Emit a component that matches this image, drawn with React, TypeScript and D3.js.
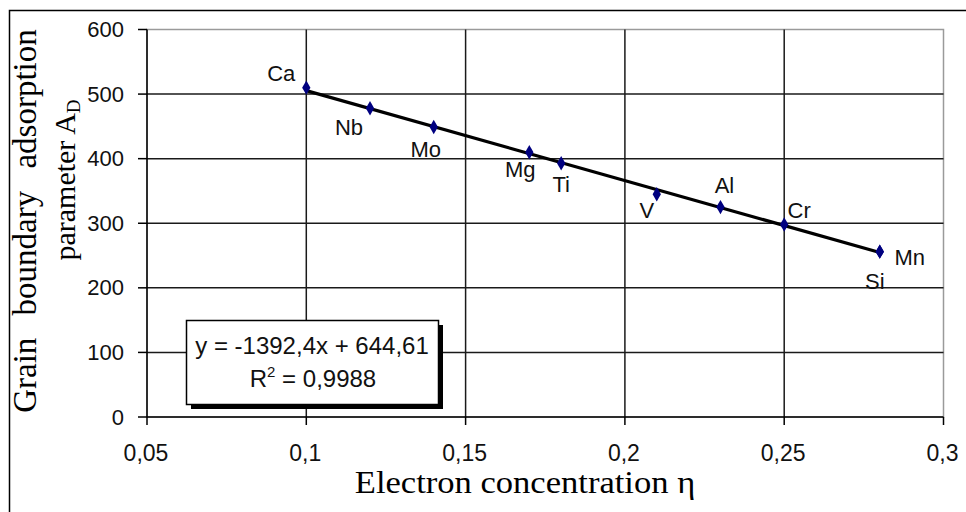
import React, { useEffect, useRef } from "react";
import * as d3 from "d3";

// element labels and measured values
const ELEMENTS = ["Ca", "Nb", "Mo", "Mg", "Ti", "V", "Al", "Cr", "Mn", "Si"];
const ETA = [0.1, 0.12, 0.14, 0.17, 0.18, 0.21, 0.23, 0.25, 0.28, 0.28];
const AD = [510, 478, 449, 410, 393, 345, 325, 298, 256, 256];

// label placement relative to point (px)
const LABEL_OFFSETS: [number, number][] = [
  [-25, -7], [-21, 27], [-8, 30], [-9, 25], [0, 29],
  [-10, 24], [4, -14], [15, -7], [30, 13], [-5, 37],
];

const X_TICKS = [0.05, 0.1, 0.15, 0.2, 0.25, 0.3];
const Y_TICKS = [0, 100, 200, 300, 400, 500, 600];

// linear trend line (Excel)
const SLOPE = -1392.4;
const INTERCEPT = 644.61;
const EQ_TEXT = "y = -1392,4x + 644,61";
const R2_TEXT = "0,9988";

const W = 966;
const H = 512;
const PL = 147, PR = 943.5, PT = 29.5, PB = 417;
const SANS = "'Liberation Sans', Arial, sans-serif";
const SERIF = "'Liberation Serif', 'Times New Roman', serif";

const fmt = (v: number) => String(v).replace(".", ",");

export default function App() {
  const svgRef = useRef<SVGSVGElement | null>(null);

  useEffect(() => {
    if (!svgRef.current) return;
    const svg = d3.select(svgRef.current);
    svg.selectAll("*").remove();

    const x = d3.scaleLinear().domain([0.05, 0.3]).range([PL, PR]);
    const y = d3.scaleLinear().domain([0, 600]).range([PB, PT]);

    svg.append("rect").attr("width", W).attr("height", H).attr("fill", "#fff");

    // outer chart border (only top/left visible)
    svg.append("path")
      .attr("d", `M9.5,${H + 2} V10.5 H${W + 2}`)
      .attr("fill", "none").attr("stroke", "#000").attr("stroke-width", 1.5);

    // plot area border (grey)
    svg.append("rect")
      .attr("x", PL).attr("y", PT).attr("width", PR - PL).attr("height", PB - PT)
      .attr("fill", "none").attr("stroke", "#9a9a9a").attr("stroke-width", 1.5);

    // gridlines
    const grid = svg.append("g").attr("stroke", "#1a1a1a").attr("stroke-width", 1.5);
    Y_TICKS.filter(t => t > 0 && t < 600).forEach(t => {
      grid.append("line").attr("x1", PL).attr("x2", PR).attr("y1", y(t)).attr("y2", y(t));
    });
    X_TICKS.filter(t => t > 0.05 && t < 0.3).forEach(t => {
      grid.append("line").attr("x1", x(t)).attr("x2", x(t)).attr("y1", PT).attr("y2", PB);
    });

    // axes lines + tick marks
    const ax = svg.append("g").attr("stroke", "#000").attr("stroke-width", 1.5);
    ax.append("line").attr("x1", PL).attr("x2", PL).attr("y1", PT).attr("y2", PB);
    ax.append("line").attr("x1", PL).attr("x2", PR).attr("y1", PB).attr("y2", PB);
    Y_TICKS.forEach(t => {
      ax.append("line").attr("x1", PL - 9).attr("x2", PL).attr("y1", y(t)).attr("y2", y(t));
    });
    X_TICKS.forEach(t => {
      ax.append("line").attr("x1", x(t)).attr("x2", x(t)).attr("y1", PB).attr("y2", PB + 8);
    });

    // tick labels
    Y_TICKS.forEach(t => {
      svg.append("text")
        .attr("x", 124).attr("y", y(t) + 7.5)
        .attr("text-anchor", "end")
        .attr("font-family", SANS).attr("font-size", "22px").attr("fill", "#111")
        .text(t);
    });
    X_TICKS.forEach(t => {
      svg.append("text")
        .attr("x", x(t) - 1).attr("y", 461)
        .attr("text-anchor", "middle")
        .attr("font-family", SANS).attr("font-size", "23px").attr("fill", "#111")
        .text(fmt(t));
    });

    // trend line
    const x0 = d3.min(ETA) as number;
    const x1 = d3.max(ETA) as number;
    svg.append("line")
      .attr("x1", x(x0)).attr("y1", y(SLOPE * x0 + INTERCEPT))
      .attr("x2", x(x1)).attr("y2", y(SLOPE * x1 + INTERCEPT))
      .attr("stroke", "#000").attr("stroke-width", 3.2);

    // markers
    const diamond = d3.symbol().type(d3.symbolDiamond).size(60);
    ETA.forEach((e, i) => {
      svg.append("path")
        .attr("d", diamond()!)
        .attr("transform", `translate(${x(e)},${y(AD[i])})`)
        .attr("fill", "#000080");
    });

    // element labels
    ELEMENTS.forEach((el, i) => {
      const [dx, dy] = LABEL_OFFSETS[i];
      svg.append("text")
        .attr("x", x(ETA[i]) + dx).attr("y", y(AD[i]) + dy)
        .attr("text-anchor", "middle")
        .attr("font-family", SANS).attr("font-size", "22px").attr("fill", "#111")
        .text(el);
    });

    // equation box with shadow
    svg.append("rect").attr("x", 191).attr("y", 325).attr("width", 252).attr("height", 84).attr("fill", "#000");
    svg.append("rect").attr("x", 186.5).attr("y", 320.5).attr("width", 252).attr("height", 84)
      .attr("fill", "#fff").attr("stroke", "#000").attr("stroke-width", 1.5);
    svg.append("text")
      .attr("x", 312).attr("y", 354).attr("text-anchor", "middle")
      .attr("font-family", SANS).attr("font-size", "24px").attr("fill", "#111")
      .text(EQ_TEXT);
    const r2 = svg.append("text")
      .attr("x", 313).attr("y", 387).attr("text-anchor", "middle")
      .attr("font-family", SANS).attr("font-size", "24px").attr("fill", "#111");
    r2.append("tspan").text("R");
    r2.append("tspan").attr("dy", -10).attr("font-size", "15px").text("2");
    r2.append("tspan").attr("dy", 10).text(` = ${R2_TEXT}`);

    // axis titles
    svg.append("text")
      .attr("transform", "translate(525,493) scale(1.08,1)")
      .attr("text-anchor", "middle")
      .attr("font-family", SERIF).attr("font-size", "32px").attr("fill", "#000")
      .text("Electron concentration η");

    svg.append("text")
      .attr("transform", "translate(36,221) rotate(-90)")
      .attr("text-anchor", "middle")
      .attr("font-family", SERIF).attr("font-size", "33px").attr("fill", "#000")
      .attr("word-spacing", "14px")
      .text("Grain boundary adsorption");
    const t2 = svg.append("text")
      .attr("transform", "translate(75,180) rotate(-90)")
      .attr("text-anchor", "middle")
      .attr("font-family", SERIF).attr("font-size", "30px").attr("fill", "#000");
    t2.append("tspan").text("parameter  A");
    t2.append("tspan").attr("dy", 5).attr("font-size", "19px").text("D");
  }, []);

  return (
    <svg
      ref={svgRef}
      width={W}
      height={H}
      style={{ position: "absolute", left: 0, top: 0, display: "block" }}
    />
  );
}
